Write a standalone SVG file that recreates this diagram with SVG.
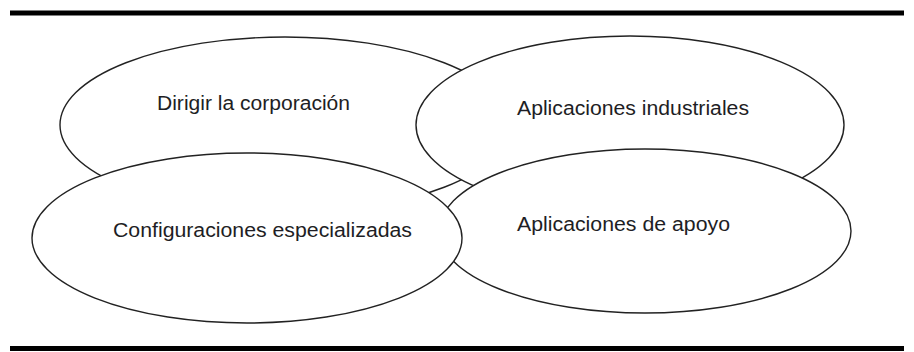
<svg xmlns="http://www.w3.org/2000/svg" width="914" height="352" viewBox="0 0 914 352">
  <style>
    .rule { stroke: #000; stroke-width: 5; }
    .node ellipse { fill: #fff; stroke: #222; stroke-width: 1.4; }
    .node text { font-family: "Liberation Sans", Arial, sans-serif; font-size: 20px; fill: #1e1e24; }
  </style>
  <rect x="0" y="0" width="914" height="352" fill="#fff"/>
  <g id="rules">
    <line class="rule" x1="10" y1="13" x2="904" y2="13"/>
    <line class="rule" x1="10" y1="348.5" x2="904" y2="348.5"/>
  </g>
  <g id="connectors"></g>
  <g id="node-dirigir" class="node">
    <ellipse cx="285" cy="125" rx="225" ry="88"/>
    <text x="157" y="110" textLength="193" lengthAdjust="spacingAndGlyphs">Dirigir la corporación</text>
  </g>
  <g id="node-industriales" class="node">
    <ellipse cx="630" cy="125" rx="214" ry="89"/>
    <text x="517" y="115" textLength="232" lengthAdjust="spacingAndGlyphs">Aplicaciones industriales</text>
  </g>
  <g id="node-apoyo" class="node">
    <ellipse cx="645" cy="231" rx="206" ry="82"/>
    <text x="517" y="231" textLength="213" lengthAdjust="spacingAndGlyphs">Aplicaciones de apoyo</text>
  </g>
  <g id="node-configuraciones" class="node">
    <ellipse cx="247" cy="238" rx="215" ry="85"/>
    <text x="113" y="237" textLength="299" lengthAdjust="spacingAndGlyphs">Configuraciones especializadas</text>
  </g>
</svg>
